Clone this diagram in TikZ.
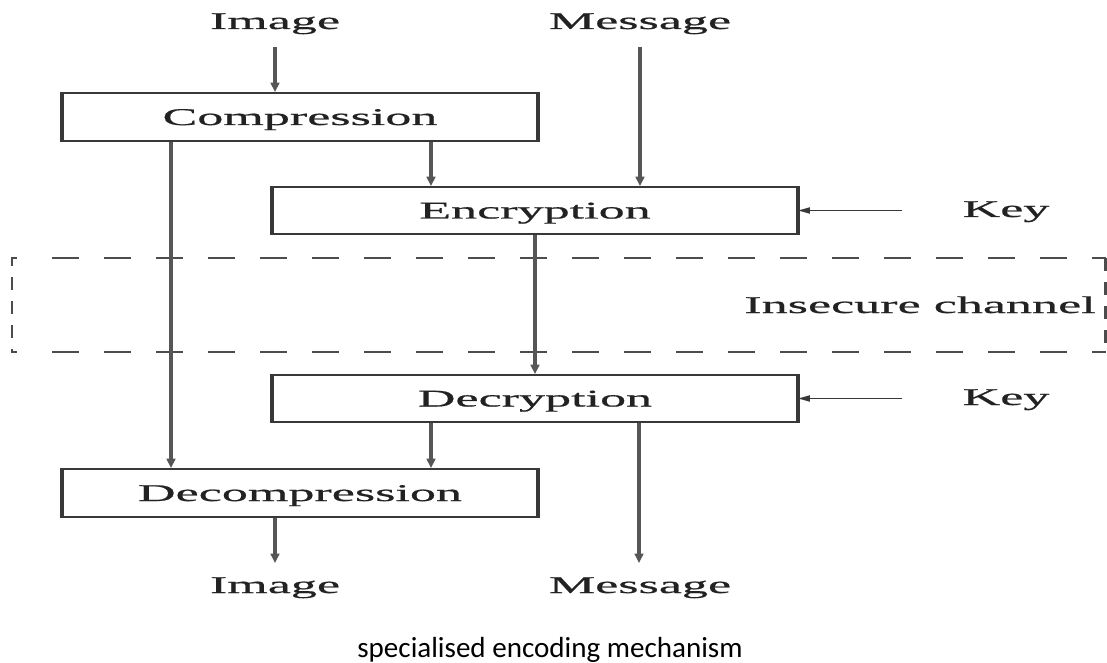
\documentclass[tikz,border=0pt]{standalone}
\usepackage{fontspec}
\setmainfont{Liberation Serif}
\newfontfamily\diagfont[FakeStretch=2.17,FakeBold=0.7]{Liberation Serif}
\newfontfamily\capfont{Carlito}
\usetikzlibrary{arrows.meta}
\definecolor{ink}{HTML}{222222}
\definecolor{wire}{HTML}{383838}

\begin{document}
\begin{tikzpicture}[x=0.75pt,y=-0.75pt,
  lbl/.style={font=\diagfont\fontsize{18}{22}\selectfont, text=ink, inner sep=0pt, anchor=base},
  blk/.style={draw=wire, line width=1.4pt, fill=white,
    font=\diagfont\fontsize{18}{22}\selectfont, text=ink,
    text height=12pt, text depth=0pt, inner sep=0pt},
  side/.style={draw=wire, line width=2.6pt},
  flow/.style={draw=wire!85, line width=2.6pt, -{Triangle[length=7pt,width=6.5pt]}},
  keyflow/.style={draw=wire, line width=1.3pt, -{Triangle[length=9pt,width=4.5pt]}},
  hdash/.style={draw=wire!90, line width=1.5pt, dash pattern=on 20.25pt off 18.75pt},
  vdash/.style={draw=wire!90, line width=2pt, dash pattern=on 9.75pt off 8.25pt},
]
% canvas
\fill[white] (0,0) rectangle (1107,663);
\useasboundingbox (0,0) rectangle (1107,663);

% insecure channel frame
\draw[hdash] (52,258) -- (1106,258);
\draw[hdash] (52,352) -- (1106,352);
\draw[vdash] (17,258) -- (12,258) -- (12,352) -- (17,352);
\draw[vdash] (1105.5,258) -- (1105.5,352);
\node[lbl] (chan) at (920,313) {Insecure channel};

% processing blocks
\node[blk, minimum width=355.5pt, minimum height=36pt] (comp) at (300,117) {Compression};
\node[blk, minimum width=393pt, minimum height=35.25pt] (enc) at (535,210.5) {Encryption};
\node[blk, minimum width=393pt, minimum height=35.25pt] (dec) at (535,398.5) {Decryption};
\node[blk, minimum width=355.5pt, minimum height=36pt] (decomp) at (300,493) {Decompression};
\foreach \b in {comp,enc,dec,decomp}{
  \draw[side] (\b.north west) -- (\b.south west);
  \draw[side] (\b.north east) -- (\b.south east);
}

% inputs and outputs
\node[lbl] (imgIn) at (275,29) {Image};
\node[lbl] (msgIn) at (640,29) {Message};
\node[lbl] (key1) at (1006,217) {Key};
\node[lbl] (key2) at (1006,405) {Key};
\node[lbl] (imgOut) at (275,593) {Image};
\node[lbl] (msgOut) at (640,593) {Message};

\coordinate (imgInTail) at (275,47);
\coordinate (msgInTail) at (640,47);
\coordinate (key1Tail) at (902,210.5);
\coordinate (key2Tail) at (902,398.5);
\coordinate (imgOutHead) at (275,563);
\coordinate (msgOutHead) at (639,563);

% data flow
\draw[flow] (imgInTail) -- (imgInTail |- comp.north);
\draw[flow] (msgInTail) -- (msgInTail |- enc.north);
\draw[flow] ([xshift=98.25pt]comp.south) -- ([xshift=98.25pt]comp.south |- enc.north);
\draw[flow] ([xshift=-96.75pt]comp.south) -- ([xshift=-96.75pt]comp.south |- decomp.north);
\draw[flow] (enc.south) -- (dec.north);
\draw[flow] ([xshift=-78pt]dec.south) -- ([xshift=-78pt]dec.south |- decomp.north);
\draw[flow] (imgOutHead |- decomp.south) -- (imgOutHead);
\draw[flow] ([xshift=78pt]dec.south) -- (msgOutHead);
\draw[keyflow] (key1Tail) -- (enc.east);
\draw[keyflow] (key2Tail) -- (dec.east);

% caption
\node[font=\capfont\fontsize{21.8}{26}\selectfont, anchor=base, inner sep=0pt] (caption)
  at (550,657) {specialised encoding mechanism};
\end{tikzpicture}
\end{document}
